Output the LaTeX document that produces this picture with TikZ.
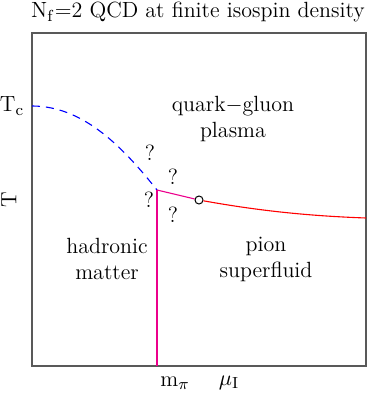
\documentclass[tikz,border=0pt]{standalone}
\usepackage{amsmath}
\usetikzlibrary{positioning}
\begin{document}
\begin{tikzpicture}[x=0.5pt, y=-0.5pt, font=\fontsize{11}{13}\selectfont]
\tikzstyle{lbl}=[inner sep=1pt, align=center]
\tikzstyle{qm}=[inner sep=1pt]
\tikzstyle{curve}=[line width=0.55pt]
\useasboundingbox (0,0) rectangle (374,395);
\draw[black!65, semithick] (32,33) rectangle (366,366);
\node[lbl] (title) at (198,12) {N$_{\mathrm{f}}$=2 QCD at finite isospin density};
\node[lbl] (tclab) at (12,106) {T$_{\mathrm{c}}$};
\node[lbl, rotate=90] (tlab) at (9,200) {T};
\node[lbl] (mpilab) at (175,383) {m$_\pi$};
\node[lbl] (mulab) at (229,383) {$\mu_{\mathrm{I}}$};
\node[lbl] (qgp) at (233,119) {quark$-$gluon\\plasma};
\node[lbl] (had) at (107,259) {hadronic\\matter};
\node[lbl] (pion) at (266,259) {pion\\superfluid};
\node[qm] (q1) at (150,153) {?};
\node[qm] (q2) at (173,177) {?};
\node[qm] (q3) at (149,200) {?};
\node[qm] (q4) at (173,215) {?};
\coordinate (tc) at (32,106);
\coordinate (tp) at (157,190);
\coordinate (mpi) at (157,366);
\coordinate (re) at (366,218);
\node[draw, circle, inner sep=0pt, minimum size=4pt, line width=0.5pt] (cep) at (199,200) {};
\draw[curve, blue, dash pattern=on 4pt off 3pt] (tc) .. controls (85,106) and (125,150) .. (tp);
\draw[curve, magenta] (tp) -- (mpi);
\draw[curve, magenta] (tp) -- (cep);
\draw[curve, red] (cep) .. controls (260,211) and (310,216) .. (re);
\end{tikzpicture}
\end{document}
